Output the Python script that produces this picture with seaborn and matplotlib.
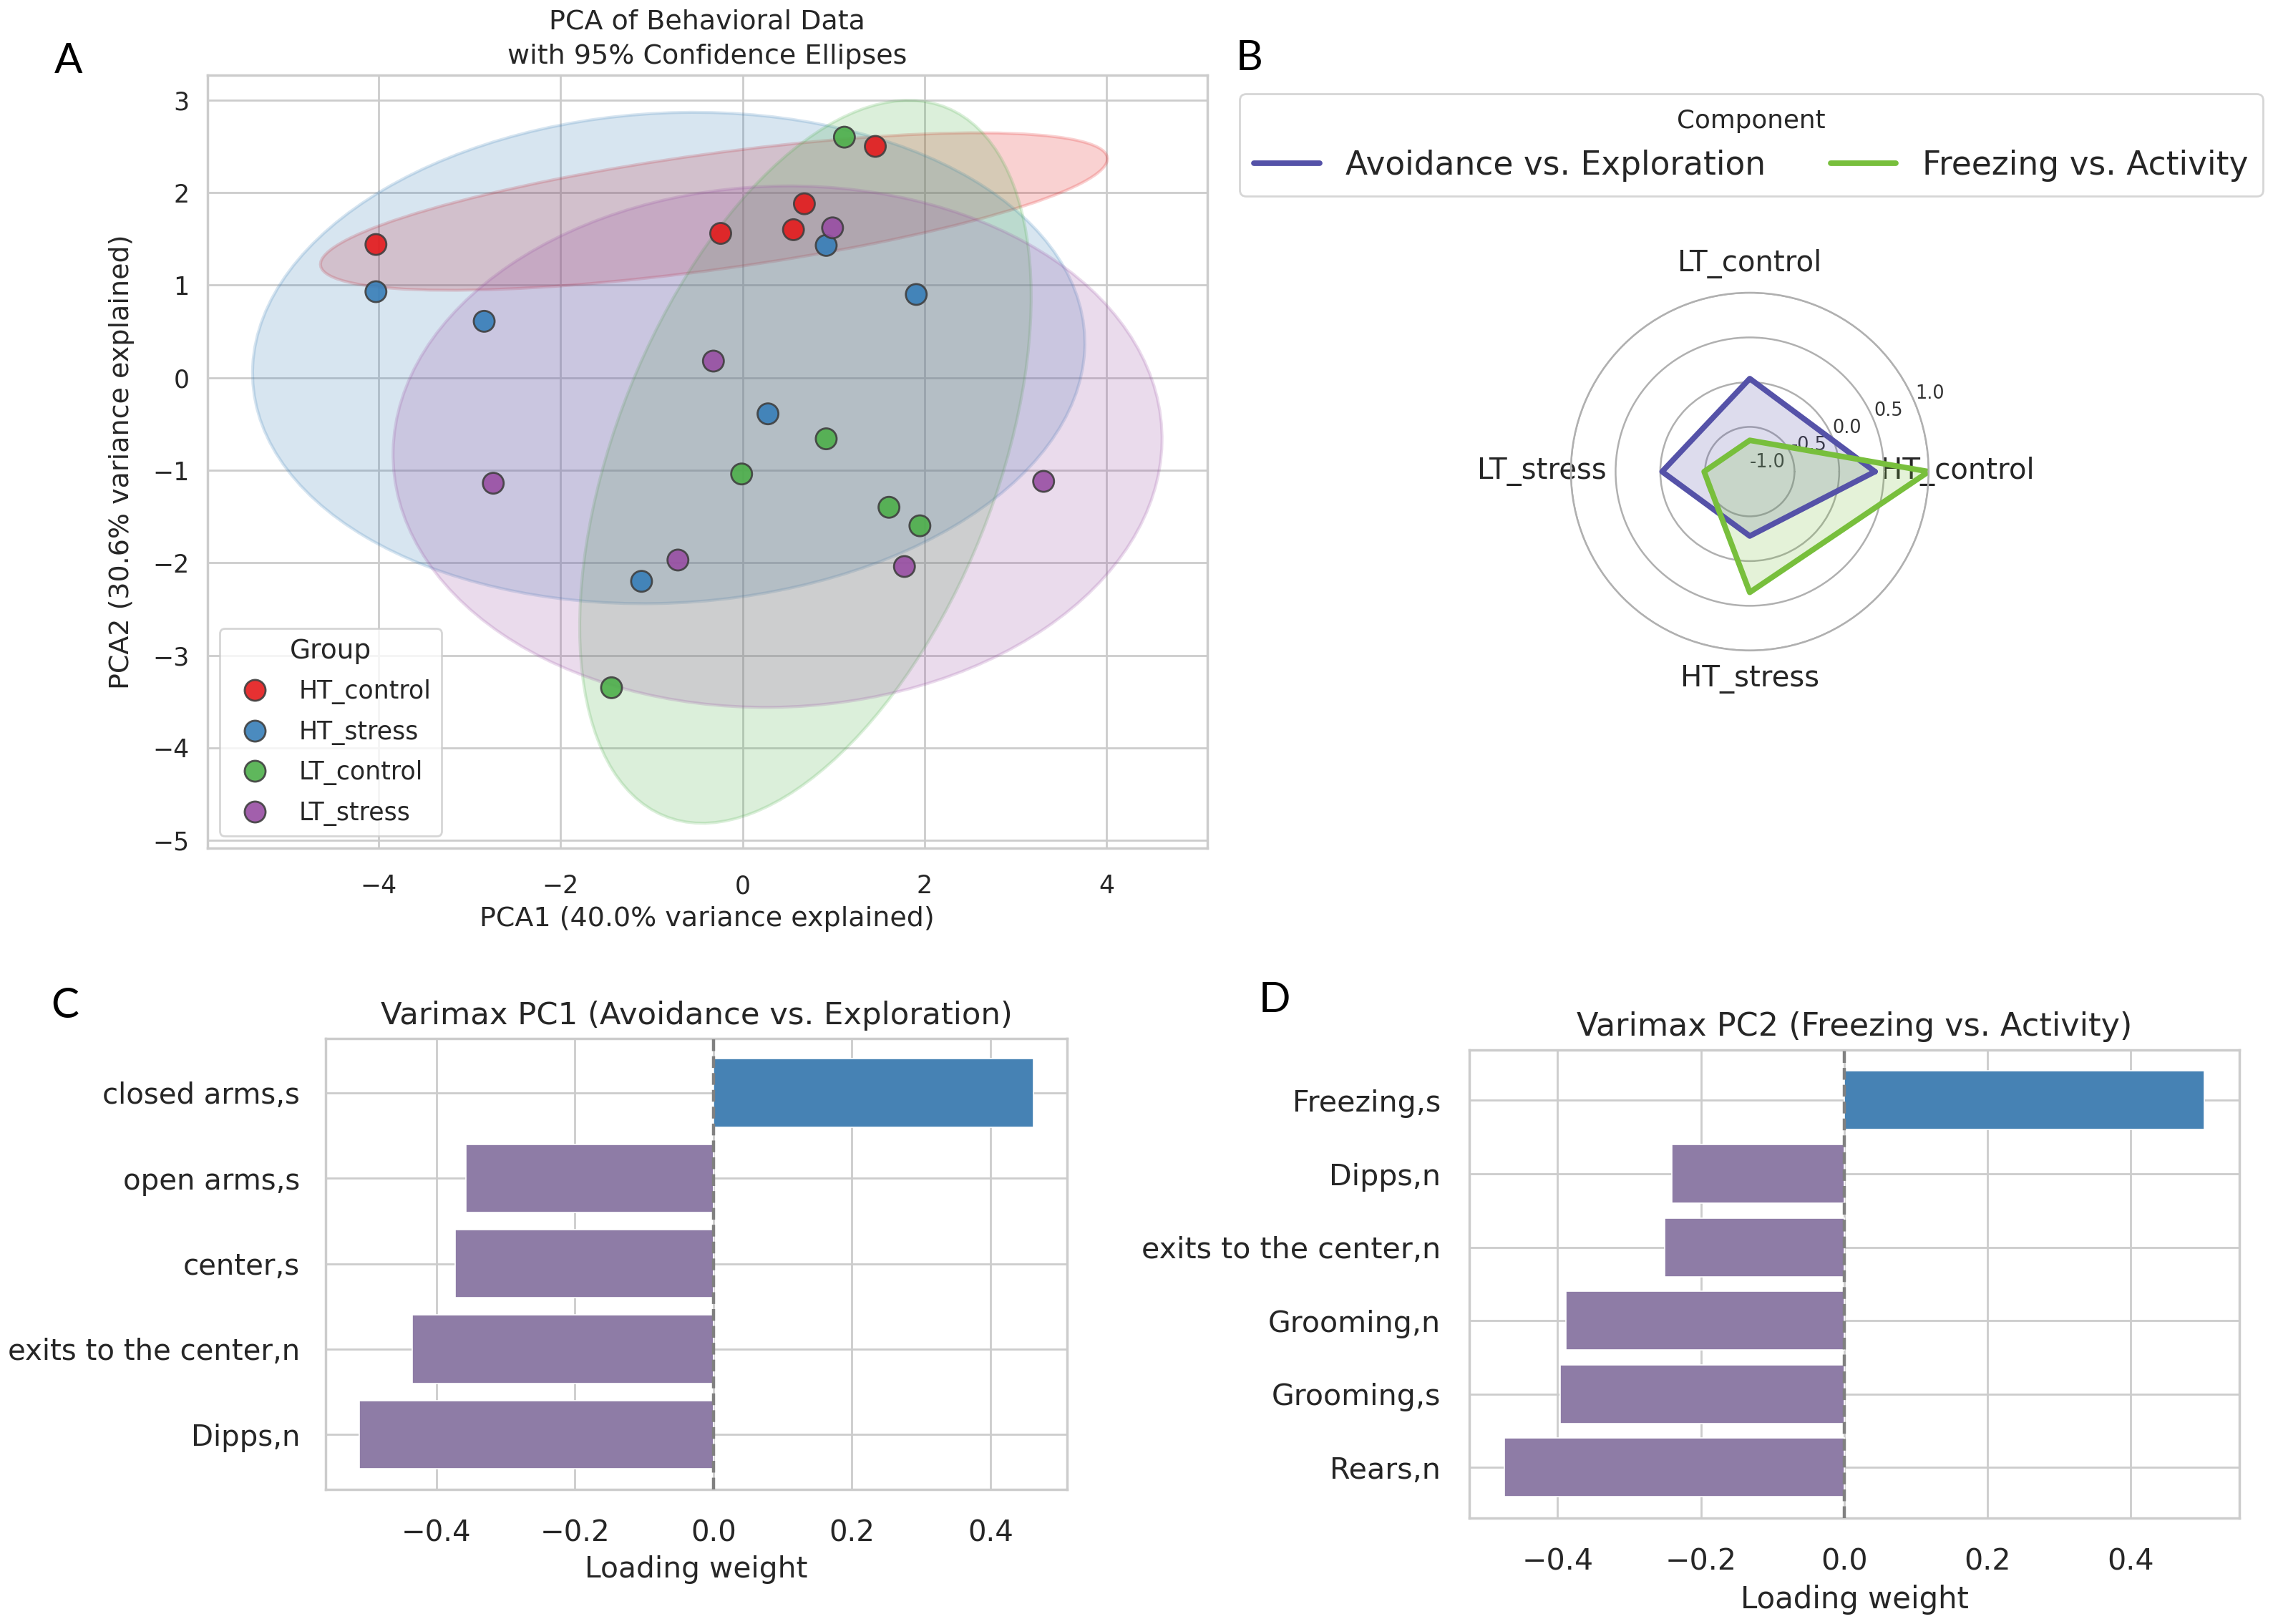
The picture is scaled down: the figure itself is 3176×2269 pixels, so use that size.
import numpy as np
import pandas as pd
import matplotlib
matplotlib.use("Agg")
import matplotlib.pyplot as plt
import matplotlib.transforms as transforms
from matplotlib.patches import Ellipse
import seaborn as sns

# ---------------------------------------------------------------------------
# Data
# ---------------------------------------------------------------------------
groups = ["HT_control", "HT_stress", "LT_control", "LT_stress"]
group_colors = ["#e41a1c", "#377eb8", "#4daf4a", "#984ea3"]

sample_group = (["HT_control"] * 5 + ["HT_stress"] * 6
                + ["LT_control"] * 6 + ["LT_stress"] * 6)
pca1 = [-4.03, -0.24, 0.56, 0.68, 1.46,
        -4.03, -2.84, 0.92, 1.91, 0.28, -1.11,
        1.12, 0.92, -0.01, 1.61, 1.95, -1.44,
        0.99, -0.32, -2.74, -0.71, 1.78, 3.31]
pca2 = [1.44, 1.56, 1.60, 1.88, 2.50,
        0.93, 0.61, 1.43, 0.90, -0.39, -2.20,
        2.60, -0.66, -1.04, -1.40, -1.60, -3.35,
        1.62, 0.18, -1.14, -1.97, -2.04, -1.12]

radar_groups = ["HT_control", "LT_control", "LT_stress", "HT_stress"]
avoidance_scores = [0.40, 0.04, -0.02, -0.28]
freezing_scores = [1.00, -0.65, -0.49, 0.35]
component_names = ["Avoidance vs. Exploration", "Freezing vs. Activity"]
component_colors = ["#5552a8", "#78bf3c"]

pc1_features = ["closed arms,s", "open arms,s", "center,s",
                "exits to the center,n", "Dipps,n"]
pc1_loadings = [0.462, -0.357, -0.373, -0.435, -0.511]

pc2_features = ["Freezing,s", "Dipps,n", "exits to the center,n",
                "Grooming,n", "Grooming,s", "Rears,n"]
pc2_loadings = [0.503, -0.240, -0.250, -0.388, -0.396, -0.474]

POS_COLOR = "#4682b4"
NEG_COLOR = "#8e7ca6"


def confidence_ellipse(x, y, ax, n_std=2.0, **kwargs):
    """Ellipse de confiance (covariance) autour d'un nuage de points."""
    x = np.asarray(x)
    y = np.asarray(y)
    cov = np.cov(x, y)
    pearson = cov[0, 1] / np.sqrt(cov[0, 0] * cov[1, 1])
    rx = np.sqrt(1 + pearson)
    ry = np.sqrt(1 - pearson)
    ell = Ellipse((0, 0), width=rx * 2, height=ry * 2, **kwargs)
    sx = np.sqrt(cov[0, 0]) * n_std
    sy = np.sqrt(cov[1, 1]) * n_std
    tr = (transforms.Affine2D().rotate_deg(45).scale(sx, sy)
          .translate(np.mean(x), np.mean(y)))
    ell.set_transform(tr + ax.transData)
    return ax.add_patch(ell)


def loading_bars(ax, features, loadings, title, fs_title, fs_tick, fs_label,
                 ypad, xpad):
    colors = [POS_COLOR if v > 0 else NEG_COLOR for v in loadings]
    sns.barplot(x=loadings, y=features, hue=features, palette=colors,
                legend=False, orient="h", width=0.8, saturation=1,
                edgecolor="white", linewidth=0.6, ax=ax)
    n = len(features)
    m = 0.05 * (n - 0.2)
    ax.set_ylim(n - 0.6 + m, -0.4 - m)
    ax.yaxis.grid(True)
    ax.axvline(0, color="gray", linestyle="--", lw=1.6, zorder=3)
    ax.set_title(title, fontsize=fs_title, pad=7)
    ax.set_xlabel("Loading weight", fontsize=fs_label)
    ax.set_ylabel("")
    ax.tick_params(axis="both", labelsize=fs_tick, length=0)
    ax.tick_params(axis="y", pad=ypad)
    ax.tick_params(axis="x", pad=xpad)


# ---------------------------------------------------------------------------
# Figure
# ---------------------------------------------------------------------------
sns.set_theme(style="whitegrid")
plt.rcParams["font.family"] = ["DejaVu Sans"]

fig = plt.figure(figsize=(15.88, 11.345), dpi=200)

axA = fig.add_axes([0.0912, 0.4777, 0.4400, 0.4759])
axB = fig.add_axes([0.6911, 0.5994, 0.1574, 0.2204], projection="polar")
axC = fig.add_axes([0.1433, 0.0830, 0.3262, 0.2777])
axD = fig.add_axes([0.6465, 0.0652, 0.3388, 0.2884])

# --- A : PCA scatter + ellipses --------------------------------------------
df = pd.DataFrame({"PCA1": pca1, "PCA2": pca2, "Group": sample_group})
for g, c in zip(groups, group_colors):
    sub = df[df["Group"] == g]
    confidence_ellipse(sub["PCA1"], sub["PCA2"], axA, n_std=2.0,
                       facecolor=c, edgecolor=c, alpha=0.2, lw=1.5, zorder=1)

sns.scatterplot(data=df, x="PCA1", y="PCA2", hue="Group", hue_order=groups,
                palette=group_colors, s=110, edgecolor="0.25", linewidth=1.0,
                alpha=0.9, ax=axA, zorder=3)
axA.set_title("PCA of Behavioral Data\nwith 95% Confidence Ellipses",
              fontsize=13.7, pad=6, linespacing=1.45)
axA.set_xlabel("PCA1 (40.0% variance explained)", fontsize=13.7)
axA.set_ylabel("PCA2 (30.6% variance explained)", fontsize=13.7, labelpad=9)
axA.tick_params(axis="both", labelsize=12.5, length=0)
axA.tick_params(axis="x", pad=13)
axA.tick_params(axis="y", pad=9)
sns.move_legend(axA, "lower left", title="Group", fontsize=12.5,
                title_fontsize=13.5, frameon=True, labelspacing=0.62)

# --- B : radar -------------------------------------------------------------
angles = np.linspace(0, 2 * np.pi, len(radar_groups), endpoint=False)
closed = np.concatenate([angles, angles[:1]])
handles = []
for name, scores, c in zip(component_names,
                           [avoidance_scores, freezing_scores],
                           component_colors):
    vals = np.concatenate([scores, scores[:1]])
    h, = axB.plot(closed, vals, color=c, lw=2.8, label=name)
    axB.fill(closed, vals, color=c, alpha=0.2)
    handles.append(h)

axB.set_ylim(-1, 1)
axB.set_yticks([-1.0, -0.5, 0.0, 0.5, 1.0])
axB.set_yticklabels(["-1.0", "-0.5", "0.0", "0.5", "1.0"],
                    fontsize=9.2, color="0.2")
axB.set_xticks(angles)
axB.set_xticklabels(radar_groups, fontsize=14.5)
axB.tick_params(axis="x", pad=1.5)
axB.xaxis.grid(False)
axB.yaxis.grid(True, color="#b0b0b0", lw=0.9)
axB.spines["polar"].set_color("#b0b0b0")
axB.spines["polar"].set_linewidth(0.9)

fig.legend(handles=handles, labels=component_names, loc="center",
           bbox_to_anchor=(0.7704, 0.9107), ncol=2, title="Component",
           fontsize=16.4, title_fontsize=12.9, frameon=True,
           borderpad=0.45)

# --- C / D : loadings ------------------------------------------------------
loading_bars(axC, pc1_features, pc1_loadings,
             "Varimax PC1 (Avoidance vs. Exploration)", 15.6, 14.5, 14.7,
             ypad=13, xpad=15)
loading_bars(axD, pc2_features, pc2_loadings,
             "Varimax PC2 (Freezing vs. Activity)", 16.0, 14.8, 15.1,
             ypad=14.5, xpad=15)

# --- panel letters ---------------------------------------------------------
for letter, (px, py) in zip("ABCD", [(47, 42), (862, 40), (45, 694), (879, 690)]):
    fig.text(px / 1568, 1 - py / 1120, letter, fontsize=21, family="Lato",
             ha="center", va="center", color="black")

fig.savefig("out.png", dpi=200)
